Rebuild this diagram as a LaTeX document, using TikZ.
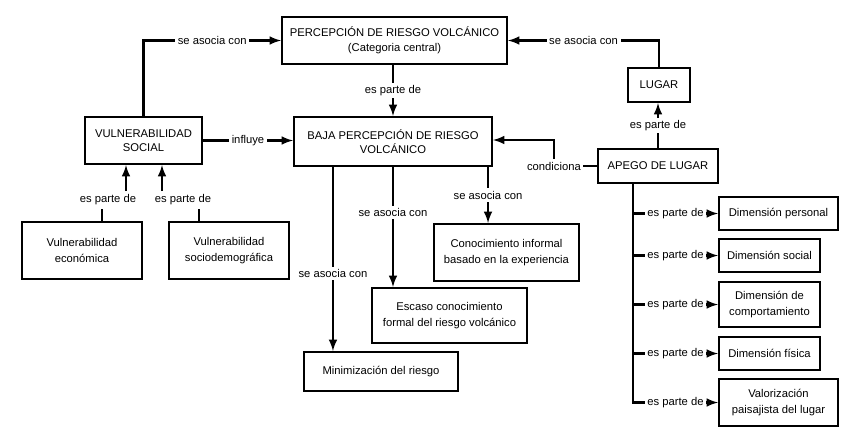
\documentclass[tikz,border=0pt]{standalone}
\usepackage{fontspec}
\setmainfont{Liberation Sans}
\usepackage{tikz}
\usetikzlibrary{arrows}
\usetikzlibrary{calc,shapes}

\tikzset{
boite/.style={draw,line width=1.2pt,align=center,inner sep=1pt,font=\fontsize{6.4}{8.8}\selectfont},
majus/.style={font=\fontsize{6.4}{7.8}\selectfont},
lien/.style={fill=white,inner sep=1.5pt,font=\fontsize{6.4}{8}\selectfont},
}

\begin{document}
\begin{tikzpicture}[x=0.02cm,y=-0.02cm,>=latex,line width=1.2pt]
\useasboundingbox (0,0) rectangle (850,440);
% Boîtes
\node[boite,minimum width=4.5cm,minimum height=0.94cm] (percep) at (394.5,40.5) {PERCEPCIÓN DE RIESGO VOLCÁNICO\\(Categoria central)};
\node[boite,majus,minimum width=3.96cm,minimum height=0.98cm] (baja) at (393,141.5) {BAJA PERCEPCIÓN DE RIESGO\\VOLCÁNICO};
\node[boite,majus,minimum width=2.34cm,minimum height=0.94cm] (vuln) at (143.5,140.5) {VULNERABILIDAD\\SOCIAL};
\node[boite,minimum width=1.24cm,minimum height=0.68cm] (lugar) at (659,85) {LUGAR};
\node[boite,minimum width=2.4cm,minimum height=0.68cm] (apego) at (658,166) {APEGO DE LUGAR};
\node[boite,minimum width=2.4cm,minimum height=1.14cm] (vecon) at (82,250.5) {Vulnerabilidad\\económica};
\node[boite,minimum width=2.4cm,minimum height=1.14cm] (vsocio) at (229,250.5) {Vulnerabilidad\\sociodemográfica};
\node[boite,minimum width=2.9cm,minimum height=1.14cm] (informal) at (506.5,252.5) {Conocimiento informal\\basado en la experiencia};
\node[boite,minimum width=3.1cm,minimum height=1.1cm] (escaso) at (449.5,315.5) {Escaso conocimiento\\formal del riesgo volcánico};
\node[boite,minimum width=3.08cm,minimum height=0.78cm] (minim) at (381,371.5) {Minimización del riesgo};
\node[boite,minimum width=2.38cm,minimum height=0.66cm] (dpers) at (778.5,213.5) {Dimensión personal};
\node[boite,minimum width=2.02cm,minimum height=0.66cm] (dsoc) at (769.5,255.5) {Dimensión social};
\node[boite,minimum width=2.02cm,minimum height=0.9cm] (dcomp) at (769.5,304.5) {Dimensión de\\comportamiento};
\node[boite,minimum width=2.02cm,minimum height=0.66cm] (dfis) at (769.5,353.5) {Dimensión física};
\node[boite,minimum width=2.38cm,minimum height=0.94cm] (valor) at (778.5,402.5) {Valorización\\paisajista del lugar};
% Liens
\draw[->] (vuln.north) |- node[lien,pos=0.75]{se asocia con} (percep.west);
\draw[->] (lugar.north) |- node[lien,pos=0.75]{se asocia con} (percep.east);
\draw[->] (baja.north |- percep.south) -- node[lien]{es parte de} (baja.north);
\draw[->] (vuln.east) -- node[lien]{influye} (vuln.east -| baja.west);
\draw[->] (apego.north) -- node[lien]{es parte de} (apego.north |- lugar.south);
\coordinate (coude) at ([xshift=-0.86cm]apego.west);
\draw[->] (apego.west) -- (coude) node[lien]{condiciona} |- ([yshift=0.03cm]baja.east);
\coordinate (b1) at ([xshift=0.8cm]baja.south west);
\coordinate (b3) at ([xshift=-0.1cm]baja.south east);
\draw[->] (b1) -- node[lien,pos=0.58]{se asocia con} (b1 |- minim.north);
\draw[->] (baja.south) -- node[lien,pos=0.38]{se asocia con} (baja.south |- escaso.north);
\draw[->] (b3) -- node[lien]{se asocia con} (b3 |- informal.north);
% Vulnerabilidad
\node[lien] (ep1) at (108,200) {es parte de};
\node[lien] (ep2) at (183,200) {es parte de};
\draw ([xshift=0.4cm]vecon.north) -- ([xshift=0.4cm]vecon.north |- ep1.south);
\draw[->] ([xshift=-0.35cm]vuln.south |- ep1.north) -- ([xshift=-0.35cm]vuln.south);
\draw ([xshift=-0.6cm]vsocio.north) -- ([xshift=-0.6cm]vsocio.north |- ep2.south);
\draw[->] ([xshift=0.37cm]vuln.south |- ep2.north) -- ([xshift=0.37cm]vuln.south);
% Dimensiones
\coordinate (tronc) at ([xshift=-0.5cm]apego.south);
\draw[->] (tronc) |- node[lien,pos=0.75]{es parte de} (valor.west);
\foreach \d in {dpers,dsoc,dcomp,dfis}
\draw[->] (tronc |- \d.west) -- node[lien]{es parte de} (\d.west);
\end{tikzpicture}
\end{document}
